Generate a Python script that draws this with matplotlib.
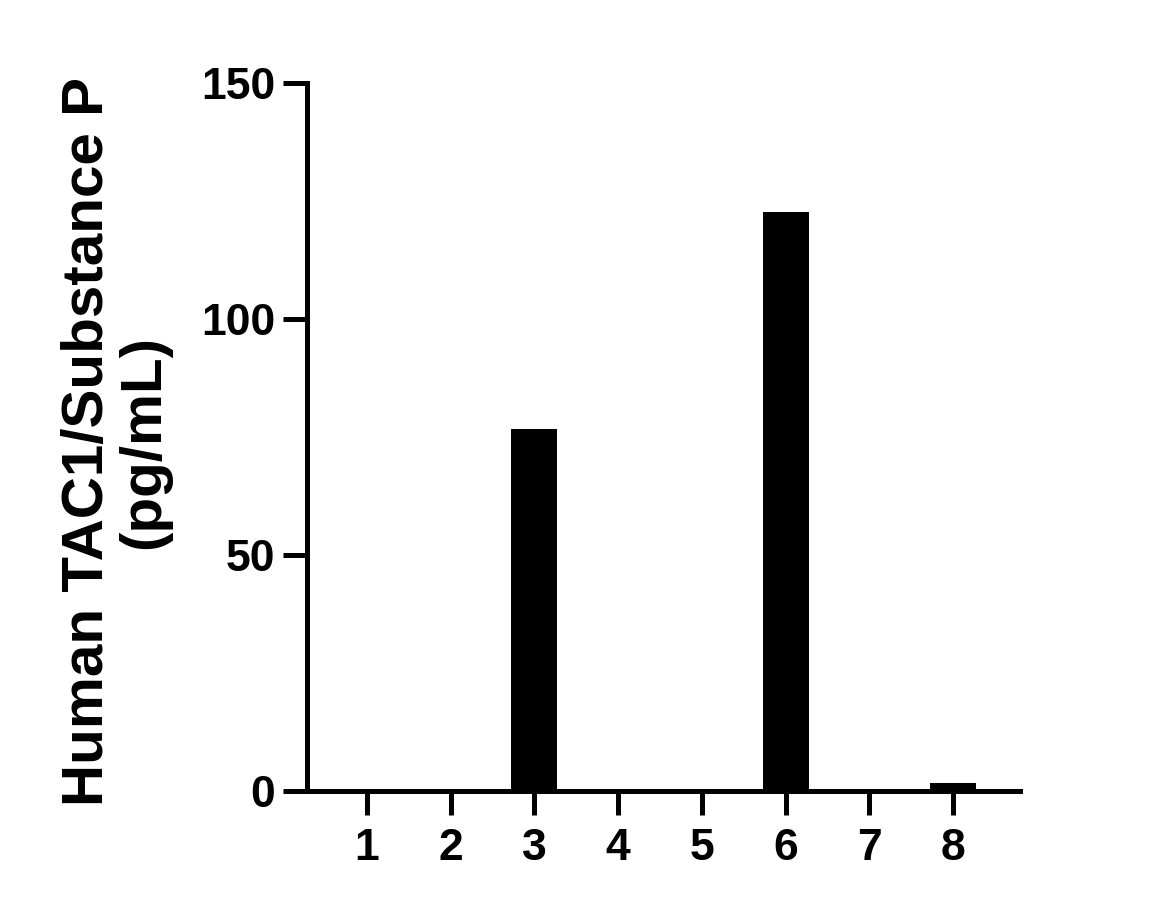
import matplotlib
matplotlib.use('Agg')
import matplotlib.pyplot as plt

# sample number vs concentration
samples = ['1', '2', '3', '4', '5', '6', '7', '8']
positions = [1, 2, 3, 4, 5, 6, 7, 8]
values = [0, 0, 76.6, 0, 0, 122.7, 0, 1.6]
yticks = [0, 50, 100, 150]

plt.rcParams['font.family'] = ['Liberation Sans', 'DejaVu Sans']
plt.rcParams['font.weight'] = 'bold'

fig = plt.figure(figsize=(11.49, 9.1), dpi=100)
ax = fig.add_axes([307/1149, 119/910, (1020-307)/1149, (791-83)/910])

ax.bar(positions, values, width=0.55, color='black', zorder=3)

ax.set_xlim(0.283, 8.8)
ax.set_ylim(0, 150)
ax.set_xticks(positions)
ax.set_xticklabels(samples)
ax.set_yticks(yticks)

for s in ['top', 'right']:
    ax.spines[s].set_visible(False)
for s in ['left', 'bottom']:
    ax.spines[s].set_linewidth(3.6)
    ax.spines[s].set_capstyle('projecting')

ax.tick_params(axis='both', length=17, width=3.6, labelsize=32, direction='out')
ax.tick_params(axis='x', pad=10)
ax.tick_params(axis='y', pad=6)
for lab in ax.get_xticklabels() + ax.get_yticklabels():
    lab.set_fontweight('bold')

fig.text(116/1149, 1 - 442/910, 'Human TAC1/Substance P\n(pg/mL)', rotation=90,
         ha='center', va='center', fontsize=42, fontweight='bold',
         multialignment='center', linespacing=1.05)

fig.savefig('out.png', dpi=100)
